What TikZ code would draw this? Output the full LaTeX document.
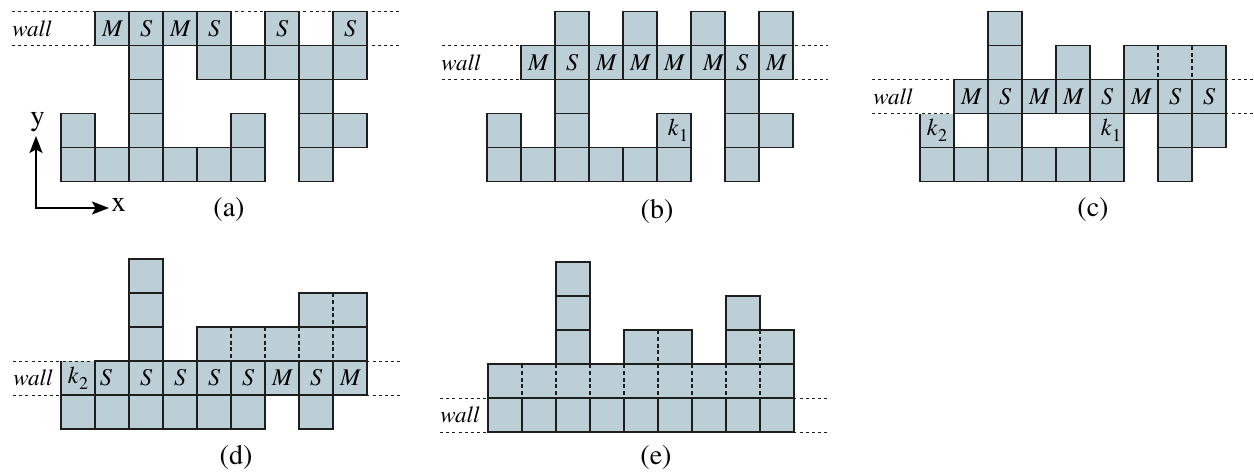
\documentclass[tikz,border=0pt]{standalone}
\usepackage{fontspec}
\setmainfont{texgyretermes}[Extension=.otf, UprightFont=*-regular, ItalicFont=*-italic, BoldFont=*-bold, BoldItalicFont=*-bolditalic]
\usetikzlibrary{arrows.meta}
\definecolor{cellfill}{RGB}{188,207,214}
\definecolor{edgecol}{RGB}{30,30,30}
\tikzset{
  cellbox/.style={fill=cellfill, draw=edgecol, line width=0.6pt},
  cellside/.style={draw=edgecol, line width=0.6pt},
  sepline/.style={draw=edgecol, line width=0.6pt, dash pattern=on 2pt off 1.4pt},
  wallline/.style={draw=edgecol, line width=0.5pt, dash pattern=on 1.5pt off 1.6pt},
  lab/.style={font=\fontsize{12}{13}\selectfont\itshape, inner sep=0pt},
  walltext/.style={font=\fontsize{11.5}{13}\selectfont\itshape, inner sep=0pt, anchor=west},
  captext/.style={font=\fontsize{14}{16}\selectfont, inner sep=0pt},
  axistext/.style={font=\fontsize{14.5}{16}\selectfont, inner sep=0pt},
  axisarrow/.style={line width=1pt, {Stealth[length=8.5pt,width=6.5pt,inset=1.8pt]}-{Stealth[length=8.5pt,width=6.5pt,inset=1.8pt]}},
}
\newcommand\pn{a}
\newcommand\kk[1]{\textit{k}\kern0.3pt\raisebox{-3pt}{\fontsize{9}{10}\selectfont\upshape #1}}
% cell at column #1, row-from-top #2, label #3
\newcommand\cellat[3]{%
  \draw[cellbox] (34*#1,34*#2) rectangle ++(34,34);
  \node[lab] (\pn c#1r#2) at (34*#1+17,34*#2+17) {#3};}
% cell without top edge
\newcommand\cellnotop[3]{%
  \fill[cellfill] (34*#1,34*#2) rectangle ++(34,34);
  \draw[cellside] (34*#1,34*#2) -- ++(0,34) -- ++(34,0) -- ++(0,-34);
  \node[lab] (\pn c#1r#2) at (34*#1+17,34*#2+17) {#3};}
% block from column #1 to #2 in row #3 with dashed separators
\newcommand\blockat[3]{%
  \draw[cellbox] (34*#1,34*#3) rectangle (34*#2+34,34*#3+34);
  \pgfmathtruncatemacro\bstart{#1+1}%
  \foreach \i in {\bstart,...,#2}{\draw[sepline] (34*\i,34*#3) -- ++(0,34);}}
\begin{document}
\begin{tikzpicture}[x=0.5pt,y=-0.5pt]
\useasboundingbox (0,0) rectangle (1254,472);

% ---------------- (a)
\renewcommand\pn{a}
\begin{scope}[shift={(61,11.7)}]
  \cellat{1}{0}{M}\cellat{2}{0}{S}\cellat{3}{0}{M}\cellat{4}{0}{S}\cellat{6}{0}{S}\cellat{8}{0}{S}
  \foreach \c in {2,4,5,6,7,8}{\cellat{\c}{1}{}}
  \foreach \c in {2,7}{\cellat{\c}{2}{}}
  \foreach \c in {0,2,5,7,8}{\cellat{\c}{3}{}}
  \foreach \c in {0,1,2,3,4,5,7}{\cellat{\c}{4}{}}
  \draw[wallline] (-49,0) -- (339,0);
  \draw[wallline] (-49,34) -- (339,34);
  \node[walltext] (awall) at (-49,17) {wall};
\end{scope}
\coordinate (orig) at (36,208);
\coordinate (ytip) at (36,136);
\coordinate (xtip) at (109,208);
\draw[axisarrow] (ytip) -- (orig) -- (xtip);
\node[axistext] (ylab) at (37.5,122) {y};
\node[axistext] (xlab) at (118.5,205) {x};
\node[captext] (capa) at (229,209.5) {(a)};

% ---------------- (b)
\renewcommand\pn{b}
\begin{scope}[shift={(487,11.7)}]
  \foreach \c in {2,4,6,8}{\cellat{\c}{0}{}}
  \cellat{1}{1}{M}\cellat{2}{1}{S}\cellat{3}{1}{M}\cellat{4}{1}{M}\cellat{5}{1}{M}\cellat{6}{1}{\kern5pt M}\cellat{7}{1}{S}\cellat{8}{1}{M}
  \foreach \c in {2,7}{\cellat{\c}{2}{}}
  \foreach \c in {0,2,7,8}{\cellat{\c}{3}{}}
  \cellat{5}{3}{\kern4pt\kk{1}}
  \foreach \c in {0,1,2,3,4,5,7}{\cellat{\c}{4}{}}
  \draw[wallline] (-45,34) -- (341,34);
  \draw[wallline] (-45,68) -- (341,68);
  \node[walltext] (bwall) at (-46,51) {wall};
\end{scope}
\node[captext] (capb) at (657,211) {(b)};

% ---------------- (c)
\renewcommand\pn{c}
\begin{scope}[shift={(920,11.7)}]
  \cellat{2}{0}{}
  \cellat{2}{1}{}\cellat{4}{1}{}
  \blockat{6}{8}{1}
  \cellat{1}{2}{M}\cellat{2}{2}{S}\cellat{3}{2}{M}\cellat{4}{2}{M}\cellat{5}{2}{S}\cellat{6}{2}{M}\cellat{7}{2}{S}\cellat{8}{2}{S}
  \cellnotop{0}{3}{\kk{2}}
  \foreach \c in {2,7,8}{\cellat{\c}{3}{}}
  \cellat{5}{3}{\kern4pt\kk{1}}
  \foreach \c in {0,1,2,3,4,5,7}{\cellat{\c}{4}{}}
  \draw[wallline] (-48,68) -- (334,68);
  \draw[wallline] (-48,102) -- (334,102);
  \node[walltext] (cwall) at (-47,85) {wall};
\end{scope}
\node[captext] (capc) at (1093,210) {(c)};

% ---------------- (d)
\renewcommand\pn{d}
\begin{scope}[shift={(61,259)}]
  \cellat{2}{0}{}
  \cellat{2}{1}{}
  \blockat{7}{8}{1}
  \cellat{2}{2}{}
  \blockat{4}{8}{2}
  \cellnotop{0}{3}{\kk{2}}
  \cellat{1}{3}{\kern-6pt S}\cellat{2}{3}{S}\cellat{3}{3}{S}\cellat{4}{3}{S}\cellat{5}{3}{S}\cellat{6}{3}{M}\cellat{7}{3}{S}\cellat{8}{3}{M}
  \foreach \c in {0,1,2,3,4,5,7}{\cellat{\c}{4}{}}
  \draw[wallline] (-48,102) -- (339,102);
  \draw[wallline] (-48,136) -- (339,136);
  \node[walltext] (dwall) at (-48,119) {wall};
\end{scope}
\node[captext] (capd) at (236,457) {(d)};

% ---------------- (e)
\renewcommand\pn{e}
\begin{scope}[shift={(488,262)}]
  \cellat{2}{0}{}
  \cellat{2}{1}{}\cellat{7}{1}{}
  \cellat{2}{2}{}
  \blockat{4}{5}{2}
  \blockat{7}{8}{2}
  \blockat{0}{8}{3}
  \foreach \c in {0,1,2,3,4,5,6,7,8}{\cellat{\c}{4}{}}
  \draw[wallline] (-48,136) -- (340,136);
  \draw[wallline] (-48,170) -- (340,170);
  \node[walltext] (ewall) at (-48,153) {wall};
\end{scope}
\node[captext] (cape) at (656,458) {(e)};
\end{tikzpicture}
\end{document}
